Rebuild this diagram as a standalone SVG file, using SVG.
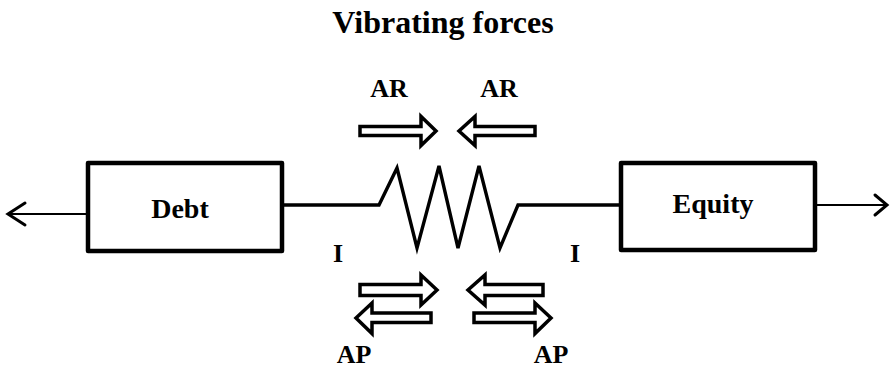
<svg xmlns="http://www.w3.org/2000/svg" width="890" height="371" viewBox="0 0 890 371">
<style>
text{font-family:"Liberation Serif","Times New Roman",serif;font-weight:bold;fill:#000;text-anchor:middle}
.box{fill:#fff;stroke:#000;stroke-width:4.5;stroke-linejoin:round}
.line{fill:none;stroke:#000;stroke-width:3.4}
.thin{fill:none;stroke:#000;stroke-width:2.2}
.head{fill:none;stroke:#000;stroke-width:3;stroke-linecap:round;stroke-linejoin:miter}
.blk{fill:#fff;stroke:#000;stroke-width:3.5;stroke-linejoin:miter}
</style>
<rect width="890" height="371" fill="#fff"/>
<text x="443" y="33" font-size="32">Vibrating forces</text>
<g id="connectors">
<line class="thin" x1="88" y1="214" x2="9" y2="214"/>
<polyline class="head" points="25,203 8,214 25,225"/>
<line class="thin" x1="815" y1="205" x2="886" y2="205"/>
<polyline class="head" points="875,195 887,205 875,215"/>
<polyline class="line" points="282,205 379,205 397,168 417,248 439,166 458,248 479,166 500,248 518,205 621,205"/>
</g>
<g id="debt">
<rect class="box" x="88" y="163" width="194" height="88"/>
<text x="180" y="218" font-size="28">Debt</text>
</g>
<g id="equity">
<rect class="box" x="621" y="163" width="194" height="87"/>
<text x="713" y="213" font-size="28">Equity</text>
</g>
<g id="labels">
<text x="389" y="97" font-size="26">AR</text>
<text x="499" y="97" font-size="26">AR</text>
<text x="338" y="262" font-size="26">I</text>
<text x="575" y="262" font-size="26">I</text>
<text x="354" y="363" font-size="26">AP</text>
<text x="551" y="363" font-size="26">AP</text>
</g>
<g id="force-arrows">
<path class="blk" d="M360,126.5 H421 V116.5 L436,131 L421,145.5 V135.5 H360 Z"/>
<path class="blk" d="M535,126.5 H475 V116.5 L459,131 L475,145.5 V135.5 H535 Z"/>
<path class="blk" d="M360,284.5 H421 V275 L437,290 L421,305 V295.5 H360 Z"/>
<path class="blk" d="M431,313 H372 V303 L356,318 L372,333.5 V322.5 H431 Z"/>
<path class="blk" d="M543,284.5 H485 V275 L468,290 L485,305 V295.5 H543 Z"/>
<path class="blk" d="M474,313 H535 V303 L551,318 L535,333.5 V322.5 H474 Z"/>
</g>
</svg>
